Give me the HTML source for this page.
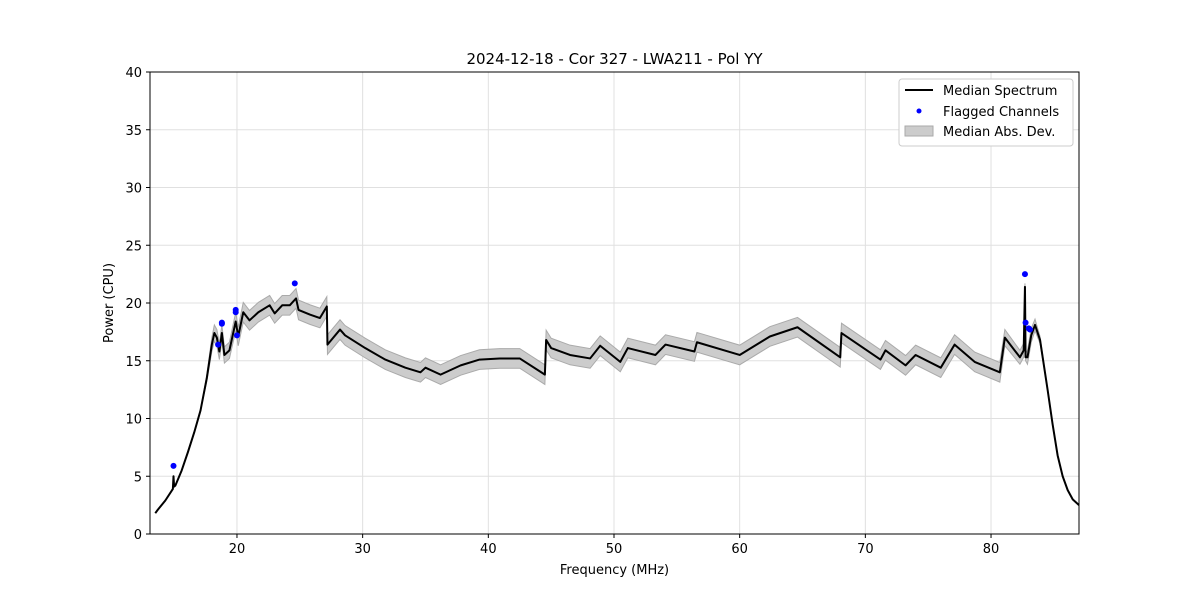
<!DOCTYPE html>
<html><head><meta charset="utf-8"><style>
body{margin:0;background:#fff;font-family:"Liberation Sans","DejaVu Sans",sans-serif}
svg text{font-family:"DejaVu Sans","Liberation Sans",sans-serif}
</style></head><body>
<svg id="chart" width="1200" height="600" xmlns="http://www.w3.org/2000/svg">
<rect width="1200" height="600" fill="#fff"/>
<g id="grid"></g>
<g id="band"></g>
<g id="line"></g>
<g id="flags"></g>
<rect x="150" y="72" width="929" height="462" fill="none" stroke="#000" stroke-width="1"/>
<g id="axes"></g>
<text x="614.5" y="64" text-anchor="middle" font-size="15">2024-12-18 - Cor 327 - LWA211 - Pol YY</text>
<text x="614.5" y="574" text-anchor="middle" font-size="13">Frequency (MHz)</text>
<text transform="translate(113,303) rotate(-90)" text-anchor="middle" font-size="13">Power (CPU)</text>
<g>
<rect x="899" y="79" width="174" height="67" rx="3" fill="#fff" stroke="#ccc"/>
<line x1="905" y1="90" x2="933" y2="90" stroke="#000" stroke-width="2"/>
<text x="943" y="95" font-size="13">Median Spectrum</text>
<circle cx="919" cy="111" r="2.5" fill="#00f"/>
<text x="943" y="116" font-size="13">Flagged Channels</text>
<rect x="905" y="126" width="28" height="10" fill="#ccc" stroke="#aaa"/>
<text x="943" y="136" font-size="13">Median Abs. Dev.</text>
</g>
</svg>
<script>
const freqs=[13.5,13.7,14.3,14.9,14.95,15.0,15.1,15.6,16.1,16.6,17.1,17.6,18.0,18.2,18.4,18.6,18.8,19.0,19.4,19.9,20.1,20.5,21.0,21.7,22.6,23.0,23.6,24.2,24.7,24.9,25.8,26.6,27.15,27.2,28.2,28.6,30.2,31.8,33.4,34.6,35.0,36.2,37.8,39.3,40.9,42.5,44.5,44.6,45.0,46.5,48.1,48.9,50.5,51.1,53.3,54.1,56.4,56.6,60.0,62.4,64.6,68.0,68.1,71.2,71.6,73.2,74.0,76.0,77.1,78.7,80.7,81.1,82.3,82.6,82.7,82.75,82.9,83.2,83.5,83.9,84.5,84.9,85.3,85.7,86.1,86.5,87.0];
const power=[1.8,2.1,2.9,3.9,5.0,4.1,4.2,5.5,7.1,8.8,10.7,13.5,16.4,17.4,17.0,15.8,17.4,15.5,15.9,18.4,17.1,19.2,18.5,19.2,19.8,19.1,19.8,19.8,20.4,19.4,19.0,18.7,19.7,16.4,17.7,17.2,16.1,15.1,14.4,14.0,14.4,13.8,14.6,15.1,15.2,15.2,13.8,16.8,16.1,15.5,15.2,16.3,14.9,16.1,15.5,16.4,15.8,16.6,15.5,17.1,17.9,15.3,17.4,15.1,15.9,14.6,15.5,14.4,16.4,14.9,14.0,17.0,15.3,15.9,21.4,15.3,15.3,17.2,18.1,16.8,12.5,9.5,6.8,5.0,3.8,3.0,2.5];
const mad=[0,0,0,0,0,0,0,0,0,0,0,0.3,0.6,0.7,0.7,0.7,0.7,0.7,0.7,0.8,0.8,0.85,0.85,0.85,0.85,0.85,0.85,0.85,0.85,0.85,0.85,0.85,0.85,0.85,0.85,0.85,0.85,0.85,0.85,0.85,0.85,0.85,0.85,0.85,0.85,0.85,0.85,0.85,0.85,0.85,0.85,0.85,0.85,0.85,0.85,0.85,0.85,0.85,0.85,0.85,0.85,0.85,0.85,0.85,0.85,0.85,0.85,0.85,0.85,0.85,0.85,0.7,0.6,0.6,0.3,0.3,0.6,0.6,0.5,0.3,0,0,0,0,0,0,0];
const flagFreq=[14.95,18.5,18.8,18.8,19.9,19.9,20.0,24.6,82.7,82.75,83.0,83.1];
const flagPow=[5.9,16.4,18.3,18.2,19.4,19.2,17.2,21.7,22.5,18.3,17.8,17.7];
const xTicks=[20,30,40,50,60,70,80];
const yTicks=[0,5,10,15,20,25,30,35,40];
const X0=13.08,X1=87.0,Y0=0,Y1=40,L=150,R=1079,T=72,B=534;
const sx=f=>L+(f-X0)/(X1-X0)*(R-L);
const sy=p=>B-(p-Y0)/(Y1-Y0)*(B-T);
const NS='http://www.w3.org/2000/svg';
function mk(tag,attrs,parent){const e=document.createElementNS(NS,tag);for(const k in attrs)e.setAttribute(k,attrs[k]);parent.appendChild(e);return e;}
const grid=document.getElementById('grid'),axes=document.getElementById('axes');
xTicks.forEach(t=>{const x=sx(t);
 const g=mk('line',{x1:x,x2:x,y1:T,y2:B,stroke:'#e0e0e0','stroke-width':1},grid);
 
 
 mk('line',{x1:x,x2:x,y1:B,y2:B+4,stroke:'#000'},axes);
 const tx=mk('text',{x:x,y:B+19,'text-anchor':'middle','font-size':13},axes);tx.textContent=t;
 
 });
yTicks.forEach(t=>{const y=sy(t);
 const g=mk('line',{x1:L,x2:R,y1:y,y2:y,stroke:'#e0e0e0','stroke-width':1},grid);
 
 
 mk('line',{x1:L-4,x2:L,y1:y,y2:y,stroke:'#000'},axes);
 const tx=mk('text',{x:L-8,y:y+5,'text-anchor':'end','font-size':13},axes);tx.textContent=t;
 
 });
let up=[],dn=[];
freqs.forEach((f,i)=>{up.push(sx(f)+','+sy(power[i]+mad[i]));dn.unshift(sx(f)+','+sy(power[i]-mad[i]));});
const band=mk('polygon',{points:up.concat(dn).join(' '),fill:'#cccccc',stroke:'#aaa','stroke-width':1},document.getElementById('band'));


const ln=mk('polyline',{points:freqs.map((f,i)=>sx(f)+','+sy(power[i])).join(' '),fill:'none',stroke:'#000','stroke-width':2,'stroke-linejoin':'round'},document.getElementById('line'));


flagFreq.forEach((f,i)=>{const c=mk('circle',{cx:sx(f),cy:sy(flagPow[i]),r:3,fill:'#00f'},document.getElementById('flags'));
 
 });
</script>
</body></html>
